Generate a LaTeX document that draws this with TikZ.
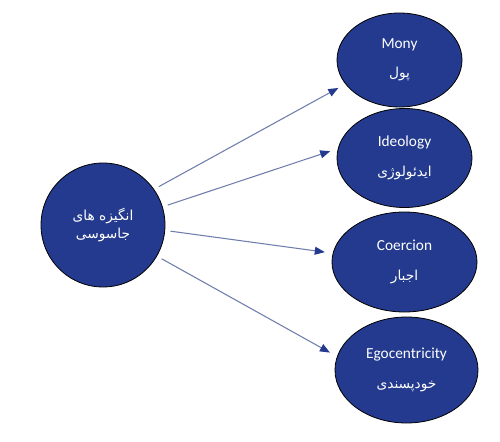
\documentclass[tikz,border=0pt]{standalone}
\usepackage{fontspec}
\usepackage{tikz}
\usepackage{xcolor}
\setmainfont{Carlito}
\newfontfamily\persianfont[Script=Arabic]{DejaVu Sans}
\TeXXeTstate=1
\usetikzlibrary{shapes.geometric,arrows.meta}
\definecolor{motiveblue}{RGB}{35,58,142}
\definecolor{arrowgray}{RGB}{112,126,172}
\newcommand{\fa}[1]{{\persianfont\fontsize{10.3}{12.5}\selectfont\beginR #1\endR}}
\tikzset{every picture/.style={line width=0.75pt}}
\tikzset{
  motive/.style={ellipse, draw=black, line width=0.6pt, fill=motiveblue, text=white, align=center, inner sep=0pt, font=\fontsize{11.5}{14}\selectfont},
  motivearrow/.style={draw=arrowgray, line width=0.8pt, -{Triangle[length=7.5pt,width=6pt,color=motiveblue]}, shorten <=4pt, shorten >=6pt}
}

\begin{document}
\begin{tikzpicture}[x=0.75pt,y=0.75pt,yscale=-1,xscale=1]
\useasboundingbox (0,0) rectangle (500,442);

%Shape: Circle [id:spy]
\node[motive, circle, minimum size=93pt] (spy) at (103,225) {\fa{انگیزه های}\\[0pt]\fa{جاسوسی}};
%Shape: Ellipse [id:money]
\node[motive, minimum width=93.75pt, minimum height=70.5pt] (money) at (399.5,60) {Mony\\[8pt]\fa{پول}};
%Shape: Ellipse [id:ideology]
\node[motive, minimum width=101.25pt, minimum height=74.25pt] (ideology) at (404.5,158) {Ideology\\[8pt]\fa{ایدئولوژی}};
%Shape: Ellipse [id:coercion]
\node[motive, minimum width=108.75pt, minimum height=75pt] (coercion) at (404.5,262) {Coercion\\[8pt]\fa{اجبار}};
%Shape: Ellipse [id:ego]
\node[motive, minimum width=107.25pt, minimum height=79.5pt] (ego) at (406.5,370) {Egocentricity\\[8pt]\fa{خودپسندی}};

%Straight Lines
\draw[motivearrow] (spy.35) -- (money.204);
\draw[motivearrow] (spy.17) -- (ideology.172);
\draw[motivearrow] (spy.-5) -- (coercion.173);
\draw[motivearrow] (spy.-30) -- (ego.169);

\end{tikzpicture}
\end{document}
